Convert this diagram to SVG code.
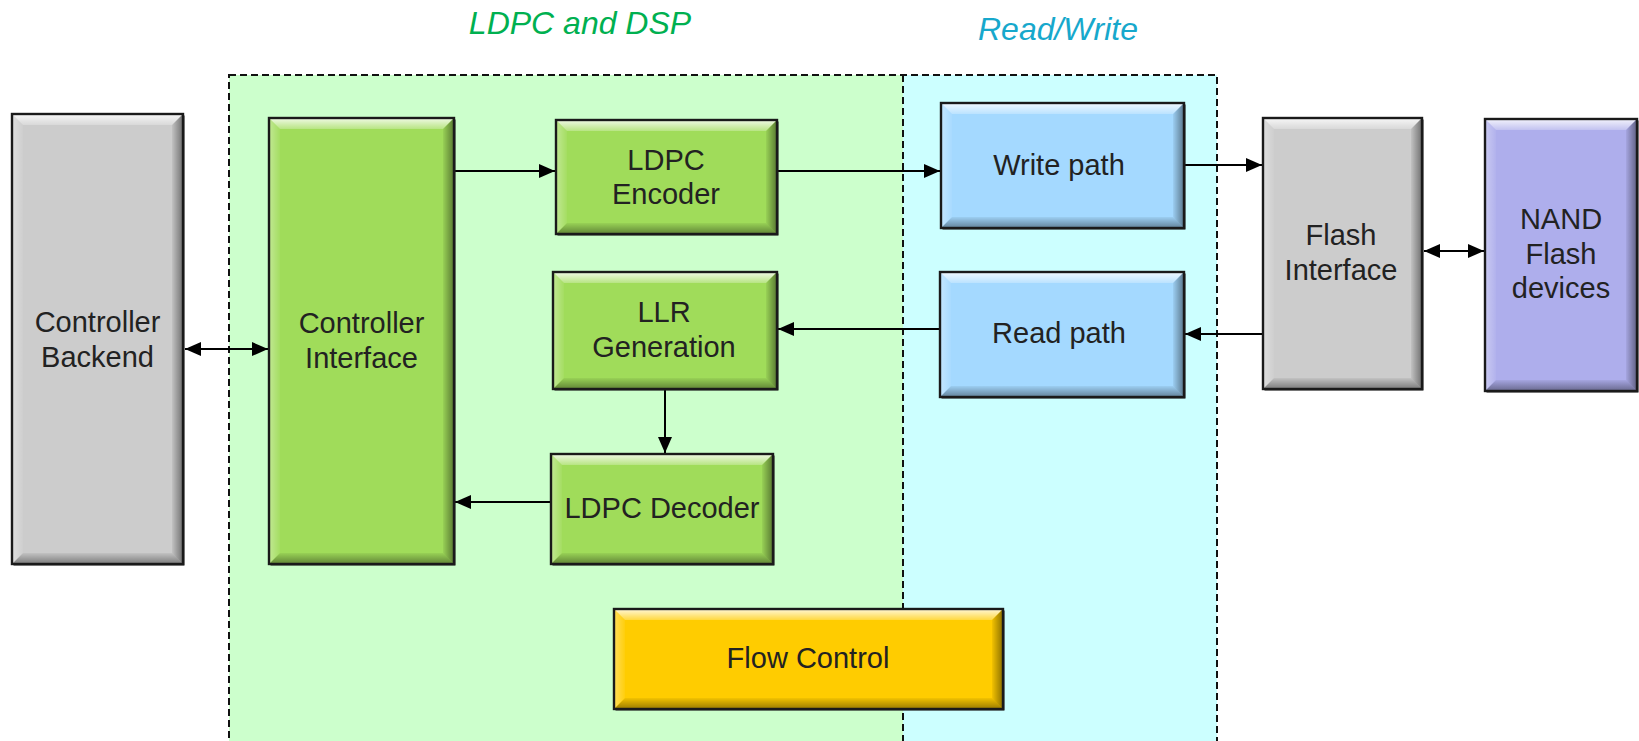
<svg xmlns="http://www.w3.org/2000/svg" width="1639" height="741" viewBox="0 0 1639 741">
  <style>
    .lbl { font-family: "Liberation Sans", Arial, sans-serif; font-size: 29px; fill: #222; text-anchor: middle; }
    .ttl { font-family: "Liberation Sans", Arial, sans-serif; font-size: 32px; font-style: italic; text-anchor: middle; }
    .panel-edge { fill: none; stroke: #111; stroke-width: 2; stroke-dasharray: 7 4; }
    .shadow { fill: #1e1e1e; }
    .edge { fill: none; stroke: #1a1a1a; stroke-width: 2.4; }
    .bt { fill: url(#gTop); }
    .bb { fill: url(#gBot); }
    .bl { fill: url(#gLeft); }
    .br { fill: url(#gRight); }
    .wire { fill: none; stroke: #000; stroke-width: 2; }
    .gray { fill: #cccccc; }
    .green { fill: #a0dc5a; }
    .blue { fill: #a4d9ff; }
    .purple { fill: #aeaeec; }
    .yellow { fill: #ffcc00; }
  </style>
  <defs>
    <linearGradient id="gTop" x1="0" y1="0" x2="0" y2="1">
      <stop offset="0" stop-color="#fff" stop-opacity="0.85"/>
      <stop offset="1" stop-color="#fff" stop-opacity="0.25"/>
    </linearGradient>
    <linearGradient id="gBot" x1="0" y1="0" x2="0" y2="1">
      <stop offset="0" stop-color="#000" stop-opacity="0.05"/>
      <stop offset="1" stop-color="#000" stop-opacity="0.4"/>
    </linearGradient>
    <linearGradient id="gLeft" x1="0" y1="0" x2="1" y2="0">
      <stop offset="0" stop-color="#fff" stop-opacity="0.35"/>
      <stop offset="1" stop-color="#fff" stop-opacity="0.05"/>
    </linearGradient>
    <linearGradient id="gRight" x1="0" y1="0" x2="1" y2="0">
      <stop offset="0" stop-color="#000" stop-opacity="0.05"/>
      <stop offset="1" stop-color="#000" stop-opacity="0.45"/>
    </linearGradient>
    <marker id="head" markerUnits="userSpaceOnUse" markerWidth="17" markerHeight="15" refX="16" refY="7" orient="auto-start-reverse">
      <path d="M0,0 L16,7 L0,14 z" fill="#000"/>
    </marker>
  </defs>

  <rect width="1639" height="741" fill="#fff"/>

  <!-- Region panels -->
  <g id="panels">
    <rect x="229" y="75" width="674" height="680" fill="#ccffcc"/>
    <rect x="903" y="75" width="314" height="680" fill="#ccffff"/>
    <rect class="panel-edge" x="229" y="75" width="988" height="680"/>
    <line class="panel-edge" x1="903" y1="75" x2="903" y2="755"/>
    <text class="ttl" x="580" y="34" fill="#00b050">LDPC and DSP</text>
    <text class="ttl" x="1058" y="40" fill="#17a8cc">Read/Write</text>
  </g>

  <!-- Connectors -->
  <g id="connectors">
    <line class="wire" x1="185" y1="349" x2="268" y2="349" marker-start="url(#head)" marker-end="url(#head)"/>
    <line class="wire" x1="450" y1="171" x2="555" y2="171" marker-end="url(#head)"/>
    <line class="wire" x1="777" y1="171" x2="940" y2="171" marker-end="url(#head)"/>
    <line class="wire" x1="940" y1="329" x2="778" y2="329" marker-end="url(#head)"/>
    <line class="wire" x1="665" y1="389" x2="665" y2="453" marker-end="url(#head)"/>
    <line class="wire" x1="551" y1="502" x2="455" y2="502" marker-end="url(#head)"/>
    <line class="wire" x1="1184" y1="165" x2="1262" y2="165" marker-end="url(#head)"/>
    <line class="wire" x1="1263" y1="334" x2="1185" y2="334" marker-end="url(#head)"/>
    <line class="wire" x1="1424" y1="251" x2="1484" y2="251" marker-start="url(#head)" marker-end="url(#head)"/>
  </g>

  <!-- Controller Backend -->
  <g id="controller-backend">
    <rect class="shadow" x="13.5" y="115.5" width="171" height="450"/>
    <rect class="gray" x="12" y="114" width="171" height="450"/>
    <polygon class="bt" points="12,114 183,114 172,125 23,125"/>
    <polygon class="bb" points="12,564 183,564 172,553 23,553"/>
    <polygon class="bl" points="12,114 23,125 23,553 12,564"/>
    <polygon class="br" points="183,114 183,564 172,553 172,125"/>
    <rect class="edge" x="12" y="114" width="171" height="450"/>
    <text class="lbl" x="97.5" y="332">Controller</text>
    <text class="lbl" x="97.5" y="367">Backend</text>
  </g>

  <!-- Controller Interface -->
  <g id="controller-interface">
    <rect class="shadow" x="270.5" y="119.5" width="185" height="446"/>
    <rect class="green" x="269" y="118" width="185" height="446"/>
    <polygon class="bt" points="269,118 454,118 443,129 280,129"/>
    <polygon class="bb" points="269,564 454,564 443,553 280,553"/>
    <polygon class="bl" points="269,118 280,129 280,553 269,564"/>
    <polygon class="br" points="454,118 454,564 443,553 443,129"/>
    <rect class="edge" x="269" y="118" width="185" height="446"/>
    <text class="lbl" x="361.5" y="333">Controller</text>
    <text class="lbl" x="361.5" y="368">Interface</text>
  </g>

  <!-- LDPC Encoder -->
  <g id="ldpc-encoder">
    <rect class="shadow" x="557.5" y="121.5" width="221" height="114"/>
    <rect class="green" x="556" y="120" width="221" height="114"/>
    <polygon class="bt" points="556,120 777,120 766,131 567,131"/>
    <polygon class="bb" points="556,234 777,234 766,223 567,223"/>
    <polygon class="bl" points="556,120 567,131 567,223 556,234"/>
    <polygon class="br" points="777,120 777,234 766,223 766,131"/>
    <rect class="edge" x="556" y="120" width="221" height="114"/>
    <text class="lbl" x="666" y="170">LDPC</text>
    <text class="lbl" x="666" y="204">Encoder</text>
  </g>

  <!-- LLR Generation -->
  <g id="llr-generation">
    <rect class="shadow" x="554.5" y="273.5" width="224" height="117"/>
    <rect class="green" x="553" y="272" width="224" height="117"/>
    <polygon class="bt" points="553,272 777,272 766,283 564,283"/>
    <polygon class="bb" points="553,389 777,389 766,378 564,378"/>
    <polygon class="bl" points="553,272 564,283 564,378 553,389"/>
    <polygon class="br" points="777,272 777,389 766,378 766,283"/>
    <rect class="edge" x="553" y="272" width="224" height="117"/>
    <text class="lbl" x="664" y="322">LLR</text>
    <text class="lbl" x="664" y="357">Generation</text>
  </g>

  <!-- LDPC Decoder -->
  <g id="ldpc-decoder">
    <rect class="shadow" x="552.5" y="455.5" width="222" height="110"/>
    <rect class="green" x="551" y="454" width="222" height="110"/>
    <polygon class="bt" points="551,454 773,454 762,465 562,465"/>
    <polygon class="bb" points="551,564 773,564 762,553 562,553"/>
    <polygon class="bl" points="551,454 562,465 562,553 551,564"/>
    <polygon class="br" points="773,454 773,564 762,553 762,465"/>
    <rect class="edge" x="551" y="454" width="222" height="110"/>
    <text class="lbl" x="662" y="518">LDPC Decoder</text>
  </g>

  <!-- Flow Control -->
  <g id="flow-control">
    <rect class="shadow" x="615.5" y="610.5" width="389" height="100"/>
    <rect class="yellow" x="614" y="609" width="389" height="100"/>
    <polygon class="bt" points="614,609 1003,609 992,620 625,620"/>
    <polygon class="bb" points="614,709 1003,709 992,698 625,698"/>
    <polygon class="bl" points="614,609 625,620 625,698 614,709"/>
    <polygon class="br" points="1003,609 1003,709 992,698 992,620"/>
    <rect class="edge" x="614" y="609" width="389" height="100"/>
    <text class="lbl" x="808" y="668">Flow Control</text>
  </g>

  <!-- Write path -->
  <g id="write-path">
    <rect class="shadow" x="942.5" y="104.5" width="243" height="125"/>
    <rect class="blue" x="941" y="103" width="243" height="125"/>
    <polygon class="bt" points="941,103 1184,103 1173,114 952,114"/>
    <polygon class="bb" points="941,228 1184,228 1173,217 952,217"/>
    <polygon class="bl" points="941,103 952,114 952,217 941,228"/>
    <polygon class="br" points="1184,103 1184,228 1173,217 1173,114"/>
    <rect class="edge" x="941" y="103" width="243" height="125"/>
    <text class="lbl" x="1059" y="175">Write path</text>
  </g>

  <!-- Read path -->
  <g id="read-path">
    <rect class="shadow" x="941.5" y="273.5" width="244" height="125"/>
    <rect class="blue" x="940" y="272" width="244" height="125"/>
    <polygon class="bt" points="940,272 1184,272 1173,283 951,283"/>
    <polygon class="bb" points="940,397 1184,397 1173,386 951,386"/>
    <polygon class="bl" points="940,272 951,283 951,386 940,397"/>
    <polygon class="br" points="1184,272 1184,397 1173,386 1173,283"/>
    <rect class="edge" x="940" y="272" width="244" height="125"/>
    <text class="lbl" x="1059" y="343">Read path</text>
  </g>

  <!-- Flash Interface -->
  <g id="flash-interface">
    <rect class="shadow" x="1264.5" y="119.5" width="159" height="271"/>
    <rect class="gray" x="1263" y="118" width="159" height="271"/>
    <polygon class="bt" points="1263,118 1422,118 1411,129 1274,129"/>
    <polygon class="bb" points="1263,389 1422,389 1411,378 1274,378"/>
    <polygon class="bl" points="1263,118 1274,129 1274,378 1263,389"/>
    <polygon class="br" points="1422,118 1422,389 1411,378 1411,129"/>
    <rect class="edge" x="1263" y="118" width="159" height="271"/>
    <text class="lbl" x="1341" y="245">Flash</text>
    <text class="lbl" x="1341" y="280">Interface</text>
  </g>

  <!-- NAND Flash devices -->
  <g id="nand-flash">
    <rect class="shadow" x="1486.5" y="120.5" width="152" height="272"/>
    <rect class="purple" x="1485" y="119" width="152" height="272"/>
    <polygon class="bt" points="1485,119 1637,119 1626,130 1496,130"/>
    <polygon class="bb" points="1485,391 1637,391 1626,380 1496,380"/>
    <polygon class="bl" points="1485,119 1496,130 1496,380 1485,391"/>
    <polygon class="br" points="1637,119 1637,391 1626,380 1626,130"/>
    <rect class="edge" x="1485" y="119" width="152" height="272"/>
    <text class="lbl" x="1561" y="229">NAND</text>
    <text class="lbl" x="1561" y="264">Flash</text>
    <text class="lbl" x="1561" y="298">devices</text>
  </g>
</svg>
